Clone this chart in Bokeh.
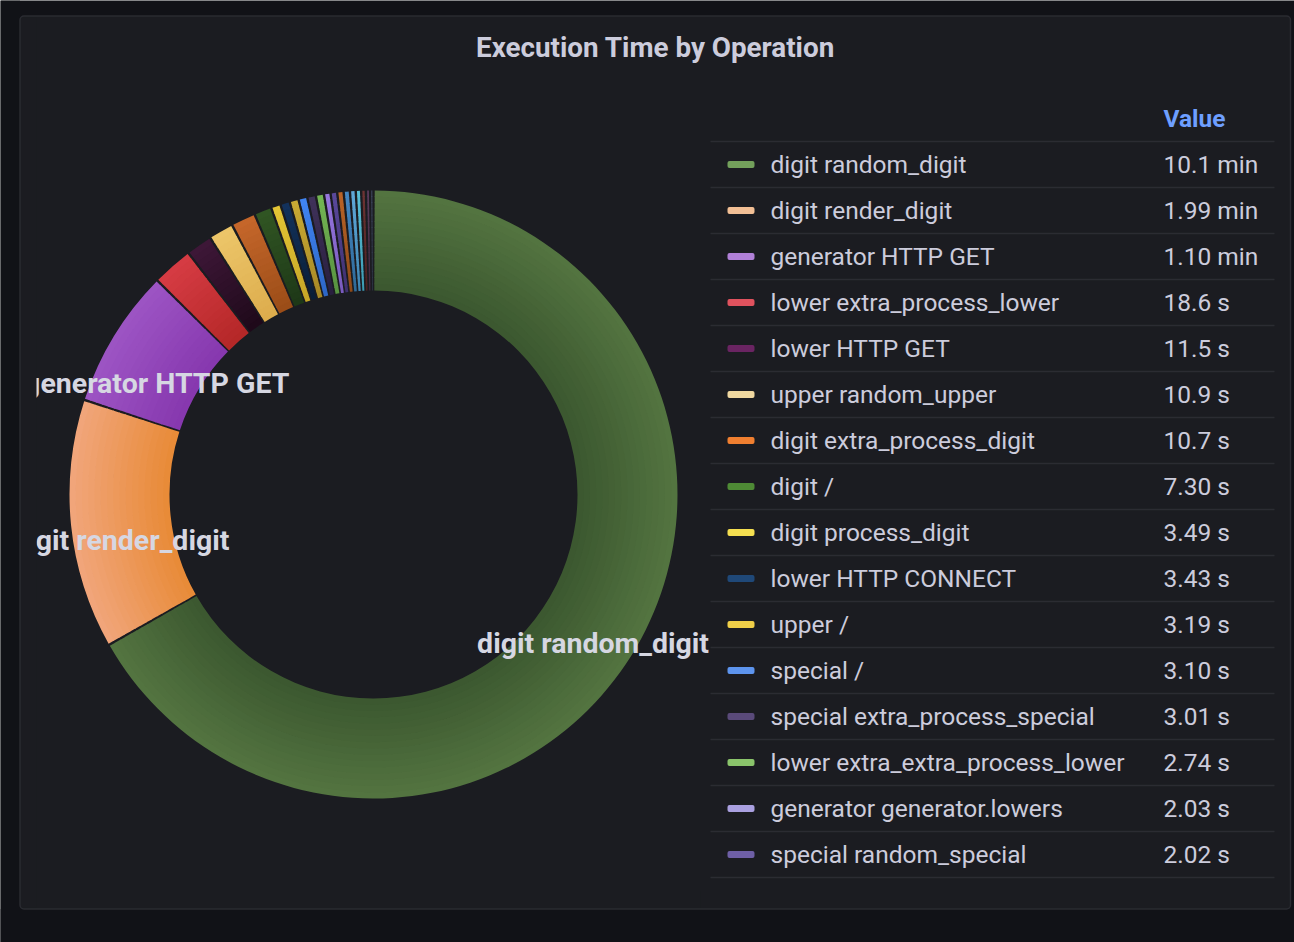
import math
from bokeh.plotting import figure
from bokeh.models import Range1d, ColumnDataSource
from bokeh.core.properties import value
from bokeh.embed import file_html
from bokeh.resources import INLINE

# ---------------- data ----------------
title = "Execution Time by Operation"
operations = [
    "digit random_digit", "digit render_digit", "generator HTTP GET",
    "lower extra_process_lower", "lower HTTP GET", "upper random_upper",
    "digit extra_process_digit", "digit /", "digit process_digit",
    "lower HTTP CONNECT", "upper /", "special /",
    "special extra_process_special", "lower extra_extra_process_lower",
    "generator generator.lowers", "special random_special",
    "upper extra_process_upper",
]
seconds = [606.0, 119.4, 66.0, 18.6, 11.5, 10.9, 10.7, 7.30, 3.49, 3.43,
           3.19, 3.10, 3.01, 2.74, 2.03, 2.02, 1.93]
value_labels = ["10.1 min", "1.99 min", "1.10 min", "18.6 s", "11.5 s",
                "10.9 s", "10.7 s", "7.30 s", "3.49 s", "3.43 s", "3.19 s",
                "3.10 s", "3.01 s", "2.74 s", "2.03 s", "2.02 s", "1.93 s"]
# remaining small operations (beyond the visible legend rows)
other_seconds = [1.85, 1.62, 1.41, 1.12, 0.86, 0.45]
labelled_slices = 3

# ---------------- styles ----------------
legend_colors = ["#73a05b", "#f2bf95", "#b180d8", "#e0525e", "#6a2462",
                 "#f0d8a0", "#f07f30", "#4e8a35", "#f5df50", "#1f4878",
                 "#f0cf48", "#5d94ee", "#5a4a7a", "#8ac46b", "#aaa0e0",
                 "#6e5fa6", "#b8621f"]
pie_outer = ["#547541", "#f1a67c", "#9d55c4", "#d63c44", "#3e1738",
             "#edc66a", "#c6672b", "#315623", "#e4c535", "#13325c",
             "#c9aa34", "#4185f2", "#40325a", "#74b654", "#9677de",
             "#5a499c", "#ba6428",
             "#4487c4", "#5fa8d8", "#5ac0d8", "#6e3434", "#5c3c5c", "#45506a"]
pie_inner = ["#3b572f", "#e88a36", "#8637ae", "#b42727", "#1e0919",
             "#dcac4c", "#9a4c17", "#1d3717", "#c6a627", "#091d36",
             "#a68826", "#2d66c6", "#281e3e", "#579240", "#795abe",
             "#3e2f6e", "#8e4917",
             "#2f6a98", "#3f86b4", "#3c9ab2", "#4c2020", "#402840", "#303a4c"]

BG = "#111217"
PANEL = "#1b1c21"
PANEL_LINE = "#2a2b31"
TEXT = "#ccccdc"
FONT = value("Roboto")

W, H = 1294, 942


def Y(py):
    return H - py


def hex2rgb(h):
    h = h.lstrip("#")
    return tuple(int(h[i:i + 2], 16) for i in (0, 2, 4))


def mix(c0, c1, t):
    a, b = hex2rgb(c0), hex2rgb(c1)
    return "#%02x%02x%02x" % tuple(round(a[i] + (b[i] - a[i]) * t) for i in range(3))


p = figure(width=W, height=H, x_range=Range1d(0, W), y_range=Range1d(0, H),
           output_backend="svg", toolbar_location=None, min_border=0)
p.axis.visible = False
p.grid.visible = False
p.outline_line_color = None
p.background_fill_color = BG
p.border_fill_color = BG

# panel
p.quad(left=19.5, right=1290, top=Y(15.5), bottom=Y(908.5),
       fill_color=PANEL, line_color=None, border_radius=4)

# title
p.text(x=[655], y=[Y(47)], text=[title], text_align="center",
       text_baseline="middle", text_font=FONT,
       text_font_size="27.8px", text_font_style="bold", text_color=TEXT)

# ---------------- donut ----------------
cx, cy = 373.0, Y(494)
r_out, r_in = 304.0, 204.0
vals = seconds + other_seconds
n = len(vals)
total = sum(vals)
pad = 0.008
avail = 2 * math.pi - n * pad
cum = [0.0]
for v in vals:
    cum.append(cum[-1] + v / total * avail + pad)

K = 16
xs, ys, ir, orr, sa, ea, cols = [], [], [], [], [], [], []
mids = []
for i, v in enumerate(vals):
    s = cum[i] + pad / 2
    e = cum[i + 1] - pad / 2
    mids.append((s + e) / 2)
    for k in range(K):
        r0 = r_in + (r_out - r_in) * k / K
        r1 = r_in + (r_out - r_in) * (k + 1) / K
        xs.append(cx)
        ys.append(cy)
        ir.append(r0)
        orr.append(min(r1 + 0.8, r_out))
        sa.append(math.pi / 2 - e)
        ea.append(math.pi / 2 - s)
        cols.append(mix(pie_inner[i], pie_outer[i], (k + 0.5) / K))

src = ColumnDataSource(dict(x=xs, y=ys, ir=ir, orr=orr, sa=sa, ea=ea, c=cols))
p.annular_wedge(x="x", y="y", inner_radius="ir", outer_radius="orr",
                start_angle="sa", end_angle="ea", direction="anticlock",
                fill_color="c", line_color=None, source=src)

# slice labels
r_lab = (r_in + r_out) / 2
label_drop = 21
lx, ly, lt = [], [], []
for i in range(labelled_slices):
    a = math.pi / 2 - mids[i]
    lx.append(cx + r_lab * math.cos(a))
    ly.append(cy + r_lab * math.sin(a) - label_drop)
    lt.append(operations[i])
p.text(x=lx, y=ly, text=lt, text_align="center", text_baseline="middle",
       text_font=FONT, text_font_size="28.5px",
       text_font_style="bold", text_color="#d6d7e2")

# ---------------- legend table ----------------
row_h = 46
first_row = 164
p.text(x=[1163], y=[Y(118)], text=["Value"], text_align="left",
       text_baseline="middle", text_font=FONT,
       text_font_size="24.5px", text_font_style="bold", text_color="#6e9fff")

nrows = len(operations)
p.segment(x0=[710] * nrows, x1=[1274] * nrows,
          y0=[Y(first_row - row_h / 2 + row_h * k) for k in range(nrows)],
          y1=[Y(first_row - row_h / 2 + row_h * k) for k in range(nrows)],
          line_color="#2b2c32", line_width=1.5)

row_y = [Y(first_row + row_h * k) for k in range(nrows)]
p.quad(left=[727] * nrows, right=[754] * nrows,
       top=[y + 3.5 for y in row_y], bottom=[y - 3.5 for y in row_y],
       fill_color=legend_colors[:nrows], line_color=None, border_radius=2)
p.text(x=[770] * nrows, y=row_y, text=operations,
       text_align="left", text_baseline="middle",
       text_font=FONT, text_font_size="24.5px", text_color=TEXT)
p.text(x=[1163] * nrows, y=row_y, text=value_labels,
       text_align="left", text_baseline="middle",
       text_font=FONT, text_font_size="24.5px", text_color=TEXT)

# clipping of the legend's scroll area and of the pie area
p.quad(left=[700], right=[1289], top=[Y(890.5)], bottom=[Y(908.5)],
       fill_color=PANEL, line_color=None)
p.quad(left=[0], right=[W], top=[Y(908.5)], bottom=[Y(H)],
       fill_color=BG, line_color=None)
p.quad(left=[19.5], right=[36], top=[Y(17)], bottom=[Y(907)],
       fill_color=PANEL, line_color=None)
p.quad(left=[0], right=[19.5], top=[Y(0)], bottom=[Y(H)],
       fill_color=BG, line_color=None)

# panel outline
p.quad(left=19.5, right=1290, top=Y(15.5), bottom=Y(908.5),
       fill_color=None, line_color=PANEL_LINE, line_width=1.5,
       border_radius=4)

open("out.html", "w").write(file_html(p, INLINE))
